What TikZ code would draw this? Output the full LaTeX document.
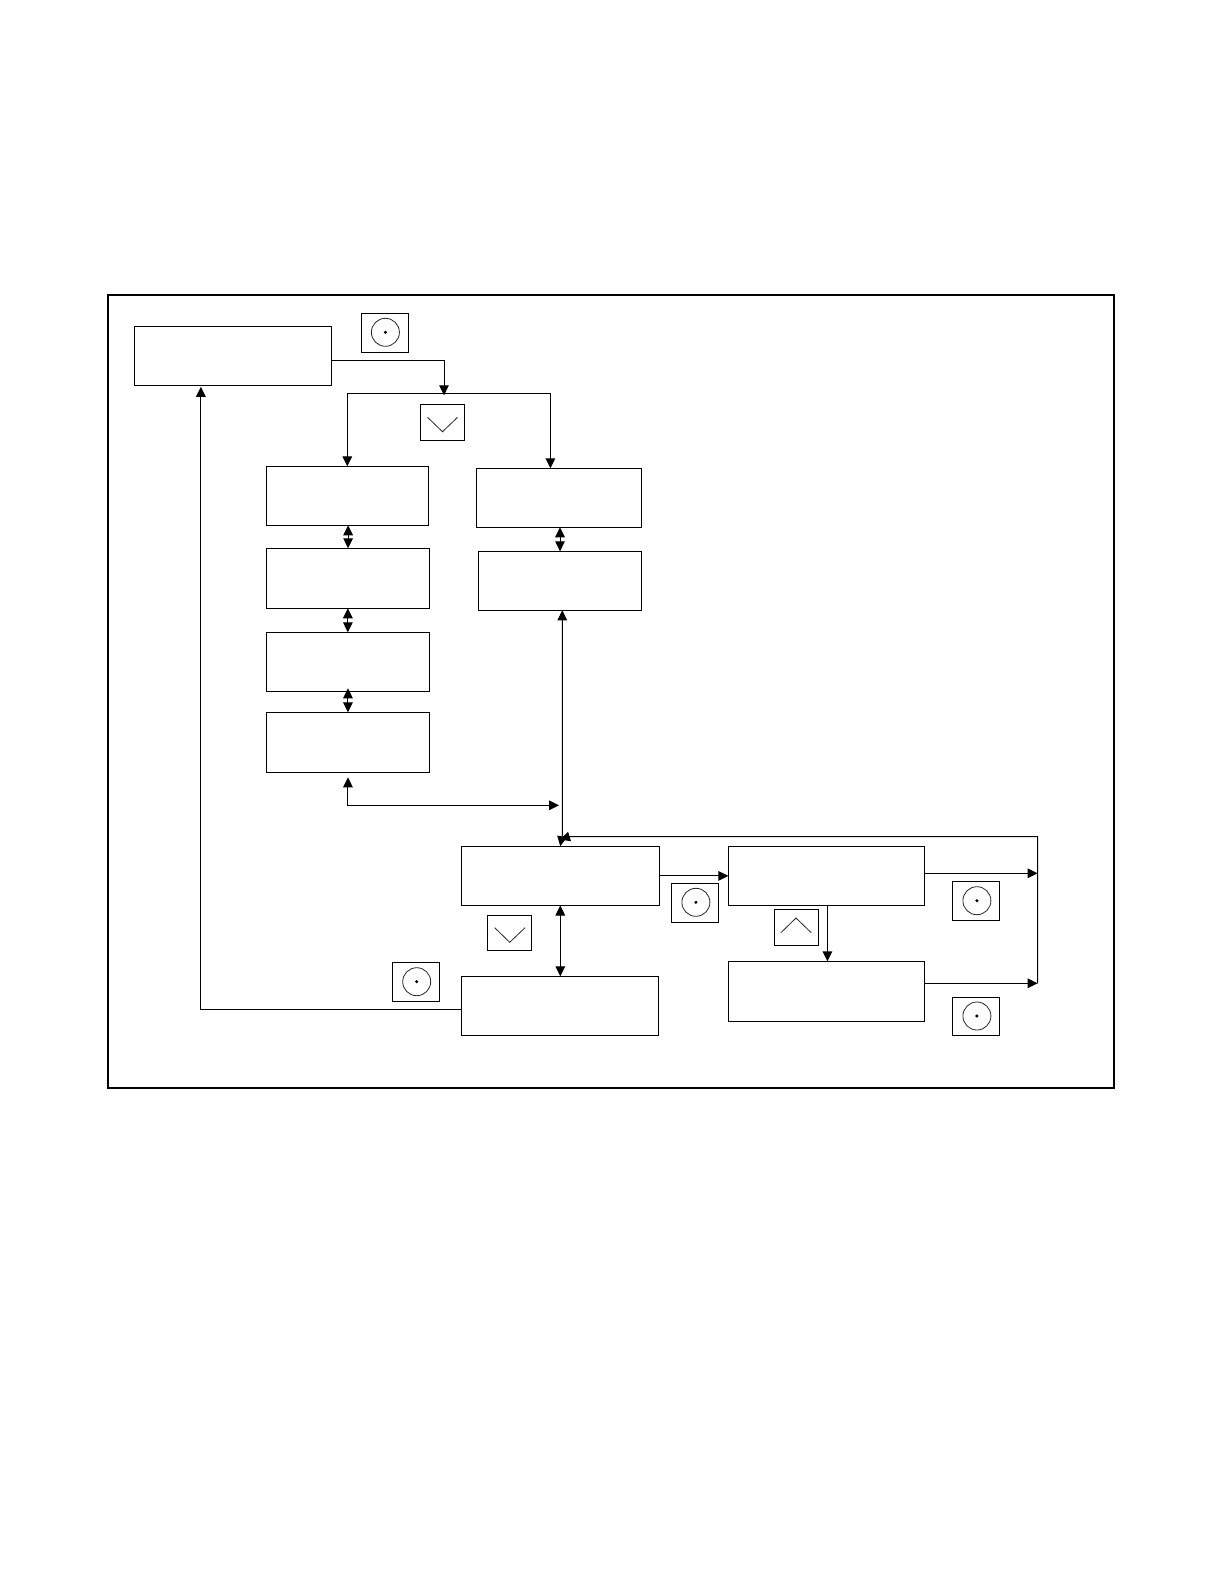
\documentclass[tikz,border=0pt]{standalone}
\usepackage{tikz}
\usetikzlibrary{arrows.meta, calc}

\tikzset{
  mainbox/.style 2 args={draw, line width=0.5pt, inner sep=0pt, outer sep=0pt,
    minimum width=#1*0.5pt, minimum height=#2*0.5pt},
  keybox/.style 2 args={draw, line width=0.45pt, inner sep=0pt, outer sep=0pt,
    minimum width=#1*0.5pt, minimum height=#2*0.5pt},
  flowline/.style={-{Triangle[length=5pt,width=4.8pt]}, line width=0.5pt},
  flowboth/.style={{Triangle[length=5pt,width=4.8pt]}-{Triangle[length=5pt,width=4.8pt]}, line width=0.5pt},
  keymark/.style={line width=0.4pt, black!85}
}

\begin{document}
\begin{tikzpicture}[x=0.5pt, y=-0.5pt]

\useasboundingbox (0,0) rectangle (1224,1584);

% Outer frame
\node[mainbox={1005.5}{793}, line width=1pt] (frame) at (610.75,691.5) {};

% === Left column ===
\node[mainbox={197}{59}] (menu) at (232.85,355.8) {};
\node[mainbox={161.8}{59}] (bone) at (347.3,495.8) {};
\node[mainbox={162.9}{60}] (btwo) at (347.85,578.3) {};
\node[mainbox={163}{59}] (bthree) at (347.95,661.8) {};
\node[mainbox={163}{60}] (bfour) at (347.95,742.3) {};

% === Right column ===
\node[mainbox={165.4}{59}] (cone) at (559.1,497.8) {};
\node[mainbox={163.6}{59}] (ctwo) at (560,580.8) {};

% === Bottom row ===
\node[mainbox={198.2}{59.2}] (dbox) at (560.3,875.9) {};
\node[mainbox={197.4}{59.4}] (ebox) at (559.9,1006) {};
\node[mainbox={196}{59.2}] (fbox) at (826.4,875.9) {};
\node[mainbox={196}{60}] (gbox) at (826.4,991.3) {};

% Push-button keys
\foreach \keyname/\keyx/\keyy/\keyw/\keyh/\dotx/\doty in {
    keya/385/333/47.2/39.4/385.4/332.3,
    keyb/416/981.8/47.4/39/416.7/981.7,
    keyc/695/903/46.8/39.4/695.9/902.3,
    keyd/976/901/46.8/39.4/976.9/900.7,
    keye/976/1016.5/46.8/38.4/976.9/1016} {
  \node[keybox={\keyw}{\keyh}] (\keyname) at (\keyx,\keyy) {};
  \draw[keymark] (\dotx,\doty) circle (14);
  \fill (\dotx,\doty) circle (1.7);
}

% Down and up keys
\node[keybox={44.2}{36}] (keydown) at (442.5,422.3) {};
\draw[keymark] (427.5,417.3) -- (442.5,431.7) -- (457.5,417.3);
\node[keybox={44.4}{35.4}] (keylow) at (509.5,933) {};
\draw[keymark] (494.7,927.7) -- (509.7,942.3) -- (525,927.7);
\node[keybox={44.3}{36}] (keyup) at (796.4,927.3) {};
\draw[keymark] (780.9,932.7) -- (796,918) -- (811.2,932.7);

% Join points
\coordinate (fork) at (444,393.3);
\coordinate (merge) at (559,805.3);
\coordinate (rejoin) at (563,835);
\coordinate (railtop) at (1037.6,836.7);

% Menu to fork
\draw[flowline] ([yshift=-2.25pt]menu.east) -| ([yshift=-1pt]fork);
\draw[flowboth] (bone.north) |- (fork) -| ([xshift=-4.35pt]cone.north);

% Inside the columns
\draw[flowboth] ([xshift=0.4pt]bone.south) -- ([xshift=0.4pt]bone.south |- btwo.north);
\draw[flowboth] (btwo.south) -- (btwo.south |- bthree.north);
\draw[flowboth] ([yshift=1.5pt]bthree.south) -- (bthree.south |- bfour.north);
\draw[flowboth] (ctwo.north |- cone.south) -- (ctwo.north);

% Column ends to the bottom row
\draw[flowboth] ([yshift=-2.5pt]bfour.south) |- (merge);
\draw[flowboth] ([xshift=1.15pt]ctwo.south) -- ([xshift=1.15pt]ctwo.south |- rejoin) -- (dbox.north);

% Bottom row
\draw[flowboth] (dbox.south) -- (dbox.south |- ebox.north);
\draw[flowline] (dbox.east |- fbox.west) -- (fbox.west);
\draw[flowline, line width=0.7pt] ([xshift=0.5pt]fbox.south) -- ([xshift=0.5pt]fbox.south |- gbox.north);
\draw[flowline] ([yshift=-1.65pt]ebox.west) -| ([yshift=-0.75pt,xshift=-16pt]menu.south);

% Back along the right side
\draw[flowline] ([yshift=1.3pt]fbox.east) -- ([yshift=1.3pt]fbox.east -| railtop);
\draw[flowline] ([yshift=4pt]gbox.east) -- ([yshift=4pt]gbox.east -| railtop);
\draw[flowline] ([yshift=4pt]gbox.east -| railtop) -- (railtop) -- (569,836.7) -- (560,839.5);

\end{tikzpicture}
\end{document}
